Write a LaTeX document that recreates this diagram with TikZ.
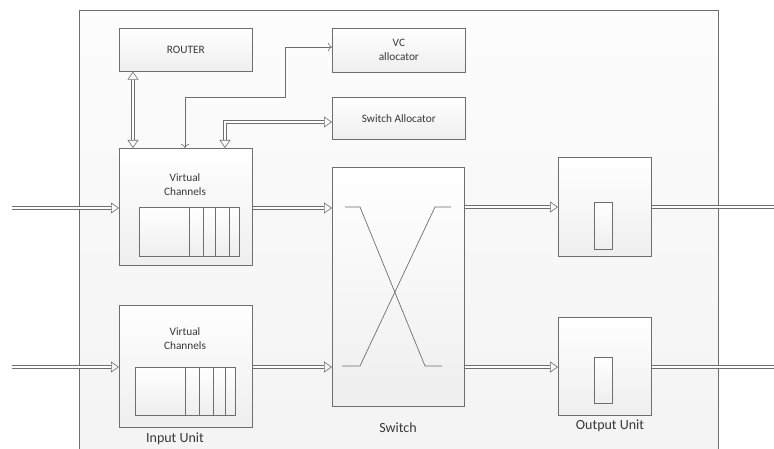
\documentclass[tikz,border=0pt]{standalone}
\usepackage{fontspec}
\setmainfont{Carlito}
\usetikzlibrary{arrows.meta,calc}
\definecolor{linec}{HTML}{6E6E6E}
\definecolor{txt}{HTML}{383838}
\begin{document}
\begin{tikzpicture}[x=1pt,y=-1pt,
  box/.style={draw=linec, line width=0.7pt, top color=white, bottom color=gray!13,
              anchor=north west, inner sep=0pt},
  intext/.style={text=txt, font=\fontsize{11.3}{14}\selectfont, align=center, inner sep=0pt},
  caption/.style={text=txt, font=\fontsize{14}{16}\selectfont, inner sep=0pt},
  pipe/.style={draw=linec, line width=0.6pt, double=white, double distance=2.8pt},
  ptip/.tip={Triangle[open, length=8pt, width=11pt]},
  pipetip/.style={pipe, -ptip},
  pipetwo/.style={pipe, ptip-ptip},
  thin/.style={draw=linec, line width=0.6pt, {To[length=4pt, width=8pt]}-{To[length=4pt, width=8pt]}},
  plain/.style={draw=linec, line width=0.7pt}]
\useasboundingbox (0,0) rectangle (774,449);

% router frame
\fill[top color=gray!2, bottom color=gray!9] (79,10) rectangle (718,449);
\draw[plain] (79,449) -- (79,10) -- (718,10) -- (718,449);

% control blocks
\node[box, minimum width=133pt, minimum height=43pt] (router) at (119,28) {};
\node[intext] at (router.center) {ROUTER};
\node[box, minimum width=133pt, minimum height=44pt] (vca) at (332,28) {};
\node[intext] at (vca.center) {VC\\allocator};
\node[box, minimum width=133pt, minimum height=42pt] (sa) at (332,97) {};
\node[intext] at (sa.center) {Switch Allocator};

% input units
\node[box, minimum width=133pt, minimum height=117pt] (in1) at (119,148) {};
\node[intext] at (185,185) {Virtual\\Channels};
\node[box, minimum width=100pt, minimum height=49pt] (buf1) at (139,207) {};
\foreach \x in {189,203,215,229} \draw[plain] (\x,207) -- (\x,256);

\node[box, minimum width=133pt, minimum height=122pt] (in2) at (119,305) {};
\node[intext] at (185,338.5) {Virtual\\Channels};
\node[box, minimum width=100pt, minimum height=48pt] (buf2) at (135,367) {};
\foreach \x in {185,199,213,225} \draw[plain] (\x,367) -- (\x,415);
\node[caption] at (175,439) {Input Unit};

% crossbar switch
\node[box, minimum width=132pt, minimum height=239pt] (sw) at (332,167) {};
\draw[plain] (345,207) -- (360,207) -- (425,366) -- (442,366);
\draw[plain] (451,207) -- (435,207) -- (360,366) -- (342,366);
\node[caption] at (398,428) {Switch};

% output units
\node[box, minimum width=93pt, minimum height=99pt] (out1) at (558,157) {};
\node[box, minimum width=18pt, minimum height=47pt] (ob1) at (594,202) {};
\node[box, minimum width=93pt, minimum height=98pt] (out2) at (558,317) {};
\node[box, minimum width=18pt, minimum height=46pt] (ob2) at (594,357) {};
\node[caption] at (610,426) {Output Unit};

% link ends
\coordinate (src1) at (12,208);
\coordinate (src2) at (12,367);
\coordinate (dst1) at (774,207);
\coordinate (dst2) at (774,367);

% data path
\draw[pipetip] (src1) -- (src1 -| in1.west);
\draw[pipetip] (src2) -- (src2 -| in2.west);
\draw[pipetip] (in1.east |- src1) -- (sw.west |- src1);
\draw[pipetip] (in2.east |- src2) -- (sw.west |- src2);
\draw[pipetip] (sw.east |- dst1) -- (out1.west |- dst1);
\draw[pipetip] (sw.east |- dst2) -- (out2.west |- dst2);
\draw[pipe] (out1.east |- dst1) -- (dst1);
\draw[pipe] (out2.east |- dst2) -- (dst2);

% control path
\draw[pipetwo] (router.south -| 133,0) -- (in1.north -| 133,0);
\draw[thin] (in1.north -| 185,0) |- (285,97) |- (vca.west |- 0,47);
\draw[pipetwo] (in1.north -| 225,0) |- (sa.west |- 0,122);
\end{tikzpicture}
\end{document}
